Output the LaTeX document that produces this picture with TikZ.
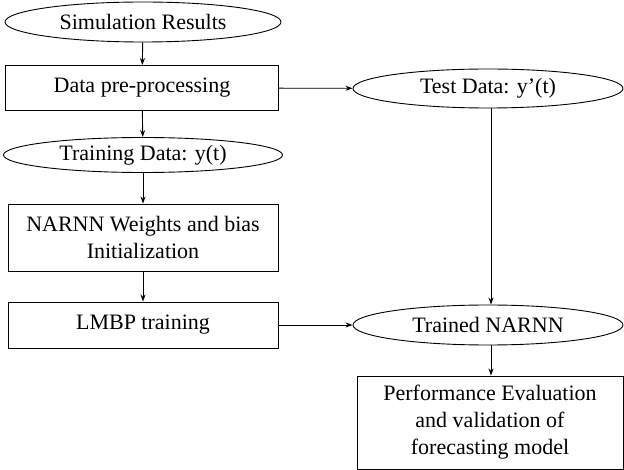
\documentclass[tikz,border=0pt]{standalone}
\usepackage{fontspec}
\setmainfont{Liberation Serif}
\usetikzlibrary{shapes.geometric,arrows.meta}
\begin{document}
\begin{tikzpicture}[x=1pt,y=-1pt,
  every node/.style={font=\fontsize{22}{27}\selectfont, align=center, inner sep=0pt, line width=0.9pt},
  ell/.style={draw, ellipse},
  box/.style={draw, rectangle},
  conn/.style={line width=0.9pt, -{Stealth[length=7pt,width=5pt]}},
  plain/.style={line width=0.9pt}]
\useasboundingbox (0,0) rectangle (624,470);
\node[ell, minimum width=276, minimum height=40] (sim) at (143,22) {Simulation Results};
\node[box, minimum width=273, minimum height=45] (pre) at (142,88) {Data pre-processing};
\node[ell, minimum width=279, minimum height=35] (train) at (143,155) {Training Data: y(t)};
\node[box, minimum width=270, minimum height=67] (init) at (143,237.5) {NARNN Weights and bias\\Initialization};
\node[box, minimum width=270, minimum height=46] (lmbp) at (143,325) {LMBP training};
\node[ell, minimum width=270, minimum height=39] (test) at (488,88.5) {Test Data: y'(t)};
\node[ell, minimum width=270, minimum height=40] (trained) at (488,325) {Trained NARNN};
\node[box, minimum width=266, minimum height=93] (perf) at (490,422.5) {Performance Evaluation\\and validation of\\forecasting model};
\draw[conn] (sim) -- (pre);
\draw[conn] (pre) -- (train);
\draw[conn] (train) -- (init);
\draw[conn] (init) -- (lmbp);
\draw[conn] (pre) -- (test);
\draw[conn] (lmbp) -- (trained);
\draw[conn] ([xshift=3pt]test.south) -- ([xshift=3pt]trained.north);
\draw[conn] ([xshift=3pt]trained.south) -- ([xshift=1pt]perf.north);
\end{tikzpicture}
\end{document}
